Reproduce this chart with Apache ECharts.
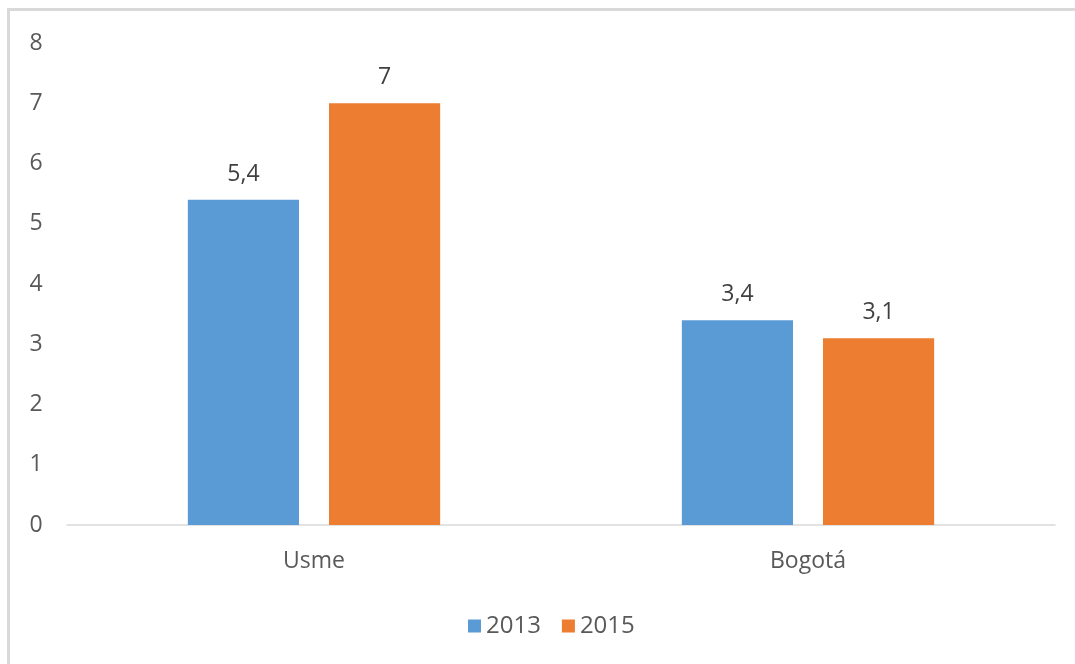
<!DOCTYPE html>
<html>
<head>
<meta charset="utf-8">
<script src="https://cdn.jsdelivr.net/npm/echarts@6/dist/echarts.min.js"></script>
<style>
html,body{margin:0;padding:0;background:#fff;}
#chart{width:1075px;height:664px;}
</style>
</head>
<body>
<div id="chart"></div>
<script>
const categories = ['Usme', 'Bogotá'];
const seriesNames = ['2013', '2015'];
const values2013 = [5.4, 3.4];
const values2015 = [7, 3.1];
const yTicks = [0, 1, 2, 3, 4, 5, 6, 7, 8];

const chart = echarts.init(document.getElementById('chart'));
const font = "'Open Sans', 'Liberation Sans', sans-serif";
const fs = 23;
const fmt = p => String(p.value).replace('.', ',');
chart.setOption({
  animation: false,
  textStyle: { fontFamily: font },
  graphic: [
    { type: 'line', shape: { x1: 8, y1: 9.5, x2: 1075, y2: 9.5 }, style: { stroke: '#d9d9d9', lineWidth: 3 } },
    { type: 'line', shape: { x1: 8.5, y1: 8, x2: 8.5, y2: 664 }, style: { stroke: '#d9d9d9', lineWidth: 3 } }
  ],
  grid: { left: 67, right: 20, top: 43, bottom: 139, containLabel: false },
  legend: {
    data: seriesNames,
    top: 609,
    left: 463,
    itemWidth: 13, itemHeight: 13, itemGap: 21,
    icon: 'rect',
    textStyle: { fontSize: 24, color: '#595959', fontFamily: font }
  },
  xAxis: {
    type: 'category',
    data: categories,
    axisLine: { lineStyle: { color: '#d9d9d9', width: 1.5 } },
    axisTick: { show: false },
    axisLabel: { fontSize: fs, color: '#595959', margin: 25 }
  },
  yAxis: {
    type: 'value',
    min: yTicks[0], max: yTicks[yTicks.length - 1], interval: 1,
    splitLine: { show: false },
    axisLine: { show: false },
    axisTick: { show: false },
    axisLabel: { fontSize: fs, color: '#595959', margin: 31, align: 'center' }
  },
  series: [
    {
      name: seriesNames[0], type: 'bar', data: values2013,
      barWidth: '22.5%', barGap: '27%',
      itemStyle: { color: '#5B9BD5' },
      label: { show: true, position: 'top', distance: 14, fontSize: fs, color: '#404040', formatter: fmt }
    },
    {
      name: seriesNames[1], type: 'bar', data: values2015,
      barWidth: '22.5%', barGap: '27%',
      itemStyle: { color: '#ED7D31' },
      label: { show: true, position: 'top', distance: 14, fontSize: fs, color: '#404040', formatter: fmt }
    }
  ]
});
</script>
</body>
</html>
